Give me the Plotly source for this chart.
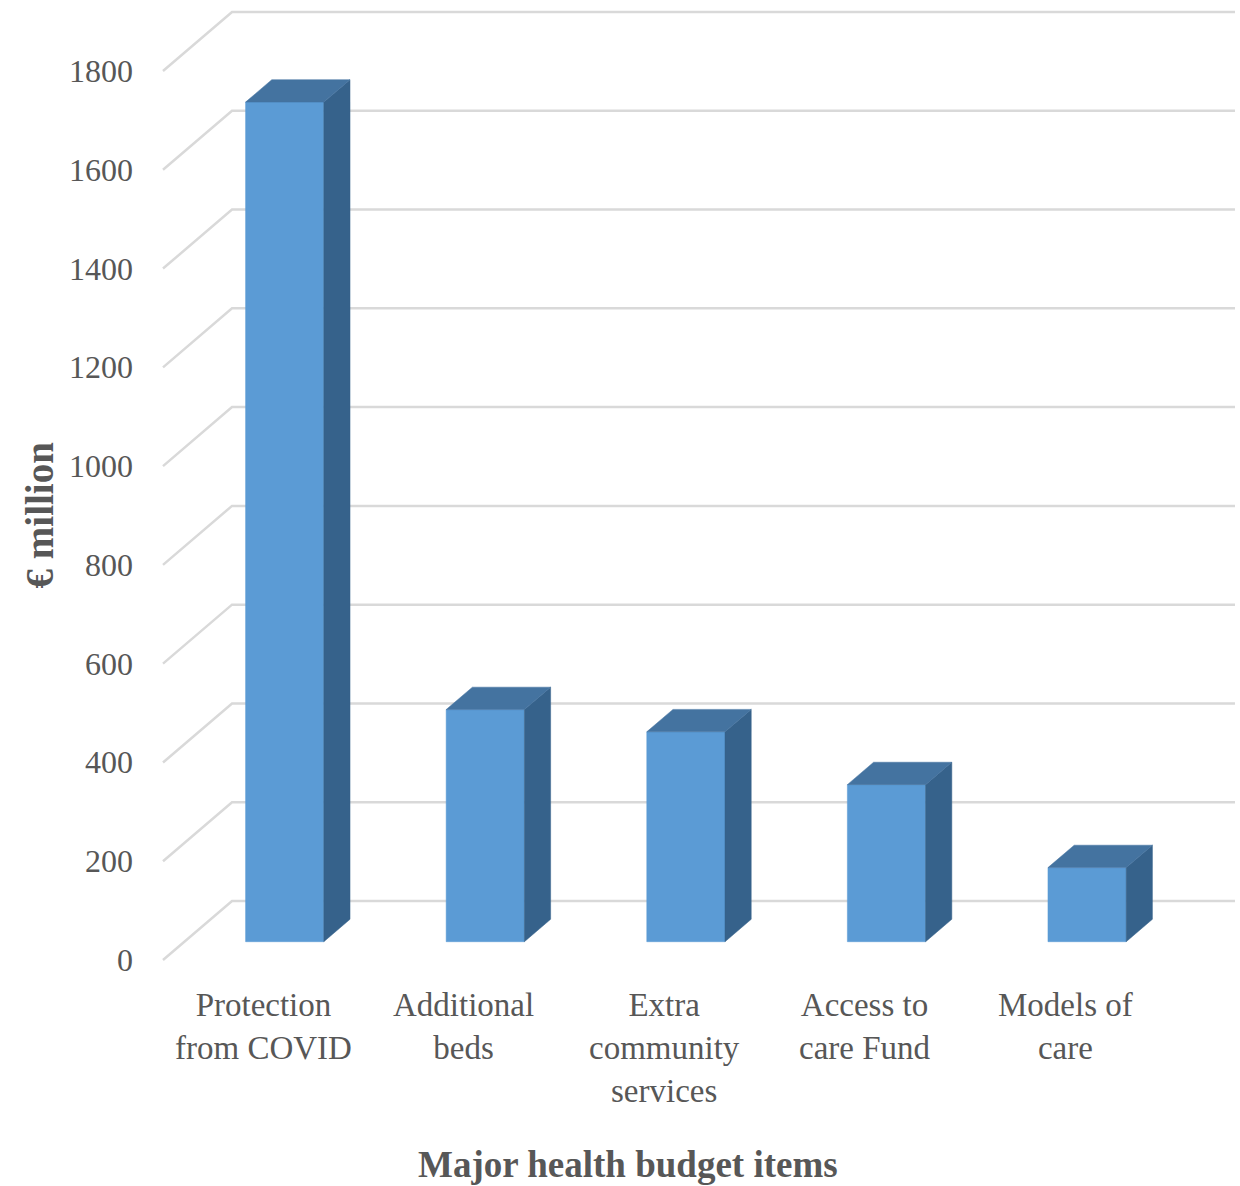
import plotly.graph_objects as go

# Major health budget items (EUR million)
categories = ["Protection<br>from COVID", "Additional<br>beds", "Extra<br>community<br>services",
              "Access to<br>care Fund", "Models of<br>care"]
values = [1700, 470, 425, 318, 150]
tick_values = [0, 200, 400, 600, 800, 1000, 1200, 1400, 1600, 1800]

# oblique 3-D projection: a full step in depth shifts by (DX, DY) in data units
DX, DY = 0.344, 119.5
D0, D1 = 0.31, 0.69      # front / back depth of the columns
HW = 0.195               # half column width (category units)
N = len(categories)

FRONT = "#5b9bd5"
TOP = "#4473a0"
SIDE = "#36628b"
GRID = "#d9d9d9"
TEXT = "#575757"


def proj(x, v, d):
    return x + d * DX, v + d * DY


fig = go.Figure()

# gridlines: left side wall diagonal + back wall horizontal
for v in tick_values:
    pts = [proj(0, v, 0), proj(0, v, 1), proj(N, v, 1)]
    fig.add_trace(go.Scatter(x=[p[0] for p in pts], y=[p[1] for p in pts], mode="lines",
                             line=dict(color=GRID, width=2.5), hoverinfo="skip", showlegend=False))


def face(pts, color):
    xs = [p[0] for p in pts] + [pts[0][0]]
    ys = [p[1] for p in pts] + [pts[0][1]]
    fig.add_trace(go.Scatter(x=xs, y=ys, mode="lines", fill="toself", fillcolor=color,
                             line=dict(color=color, width=0.5), hoverinfo="skip", showlegend=False))


for i, v in enumerate(values):
    c = i + 0.5
    xl, xr = c - HW, c + HW
    # front face
    face([proj(xl, 0, D0), proj(xr, 0, D0), proj(xr, v, D0), proj(xl, v, D0)], FRONT)
    # right side face
    face([proj(xr, 0, D0), proj(xr, 0, D1), proj(xr, v, D1), proj(xr, v, D0)], SIDE)
    # top face
    face([proj(xl, v, D0), proj(xr, v, D0), proj(xr, v, D1), proj(xl, v, D1)], TOP)

# value axis labels at the front edge of the floor/wall
for v in tick_values:
    fig.add_annotation(x=-0.14, y=v, text=str(v), showarrow=False, xanchor="right",
                       yanchor="middle", font=dict(family="Liberation Serif", size=32, color=TEXT))

# category labels
for i, lab in enumerate(categories):
    fig.add_annotation(x=i + 0.5, y=-50, text=lab, showarrow=False, xanchor="center",
                       yanchor="top", align="center",
                       font=dict(family="Liberation Serif", size=33, color=TEXT))

# axis titles
fig.add_annotation(x=0.5065, y=0.018, xref="paper", yref="paper", text="<b>Major health budget items</b>",
                   showarrow=False, xanchor="center", yanchor="middle",
                   font=dict(family="Liberation Serif", size=37, color=TEXT))
fig.add_annotation(x=0.032, y=0.566, xref="paper", yref="paper", text="<b>€ million</b>",
                   showarrow=False, textangle=-90, xanchor="center", yanchor="middle",
                   font=dict(family="Liberation Serif", size=39, color=TEXT))

fig.update_layout(
    width=1240, height=1186, autosize=False,
    margin=dict(l=0, r=0, t=0, b=0),
    paper_bgcolor="white", plot_bgcolor="white",
    xaxis=dict(range=[-0.8126, 5.369], visible=False, fixedrange=True),
    yaxis=dict(range=[-457.6, 1943.8], visible=False, fixedrange=True),
    showlegend=False,
)

fig.write_html("out.html")
